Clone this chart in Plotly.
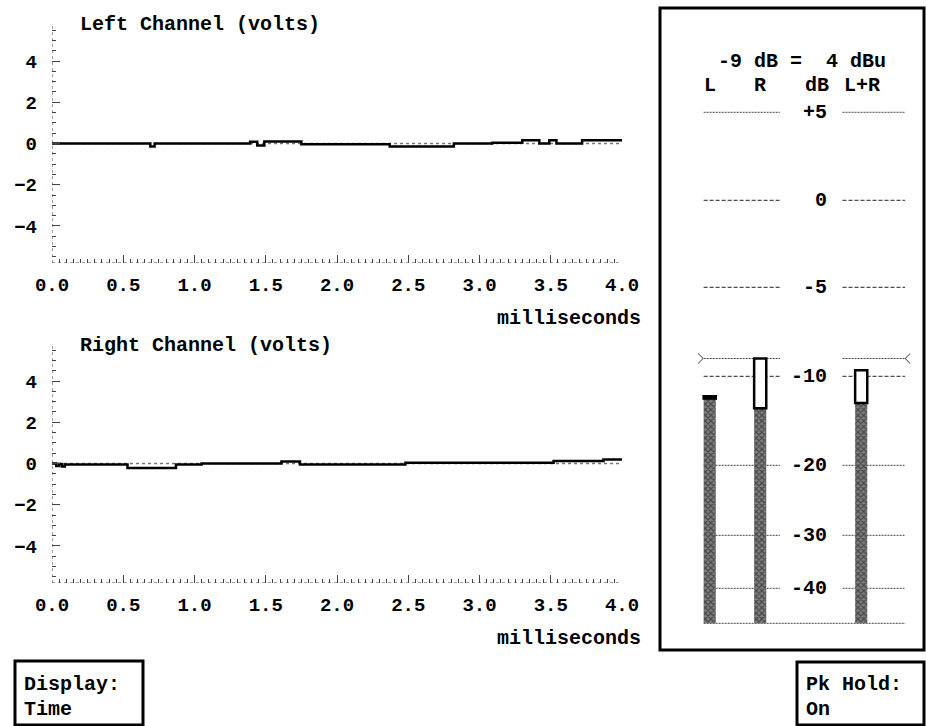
import numpy as np
import plotly.graph_objects as go

W, H = 926, 726

# ---------------- data ----------------
time_ms_left = [0.0, 0.66, 0.69, 0.72, 1.39, 1.44, 1.49, 1.75, 2.37, 2.82, 3.09, 3.30, 3.42, 3.49, 3.54, 3.72, 4.0]
volts_left = [0.0, 0.0, -0.15, 0.0, 0.08, -0.10, 0.10, -0.04, -0.15, 0.0, 0.04, 0.16, 0.0, 0.16, 0.0, 0.16, 0.16]

time_ms_right = [0.0, 0.03, 0.05, 0.07, 0.09, 0.53, 0.87, 1.05, 1.61, 1.74, 2.48, 3.52, 3.87, 4.0]
volts_right = [0.0, -0.12, -0.03, -0.15, -0.05, -0.22, -0.05, 0.0, 0.10, -0.05, 0.04, 0.12, 0.20, 0.20]

meter_columns = ["L", "R", "dB", "L+R"]
meter_channels = ["L", "R", "L+R"]
meter_level_db = [-12.5, -13.6, -13.0]
meter_peak_db = [-12.24, -9.0, -9.66]
meter_ref_db = -9.0
meter_tick_db = [5, 0, -5, -10, -20, -30, -40]
meter_tick_labels = ["+5", "0", "-5", "-10", "-20", "-30", "-40"]
meter_floor_db = -50
# non-linear meter scale (dB -> scale units)
meter_scale_db = [-50, -40, -30, -20, -10, -5, 0, 5]
meter_scale_pos = [0, 35, 88, 158, 247, 336, 423, 511]


def mpos(db):
    return np.interp(db, meter_scale_db, meter_scale_pos)


FONT = "Liberation Mono"
BLACK = "#000000"
GRAY = "#444444"


def fx(px):
    return px / W


def fy(py):
    return 1 - py / H


fig = go.Figure()

# ---------------- waveform plots ----------------
for i, (t, v) in enumerate([(time_ms_left, volts_left), (time_ms_right, volts_right)]):
    xa = "x" if i == 0 else "x2"
    ya = "y" if i == 0 else "y2"
    fig.add_trace(go.Scatter(x=[0, 4], y=[0, 0], mode="lines", xaxis=xa, yaxis=ya,
                             line=dict(color="#777777", width=1.5, dash="dot"),
                             hoverinfo="skip", showlegend=False))
    fig.add_trace(go.Scatter(x=t, y=v, mode="lines", xaxis=xa, yaxis=ya,
                             line=dict(color=BLACK, width=2.5, shape="hv"),
                             showlegend=False))

# ---------------- meter ----------------
cols_x = [meter_columns.index(c) for c in meter_channels]
level_pos = mpos(np.array(meter_level_db))
peak_pos = mpos(np.array(meter_peak_db))
floor_pos = mpos(meter_floor_db)

fig.add_trace(go.Bar(x=cols_x, y=level_pos - floor_pos, base=floor_pos, width=0.24,
                     xaxis="x3", yaxis="y3", showlegend=False,
                     marker=dict(color="#606060", line=dict(width=0),
                                 pattern=dict(shape="x", fgcolor="#111111", bgcolor="#808080",
                                              size=4, solidity=0.55))))
fig.add_trace(go.Bar(x=cols_x, y=peak_pos - level_pos, base=level_pos, width=0.24,
                     xaxis="x3", yaxis="y3", showlegend=False,
                     marker=dict(color="white", line=dict(color=BLACK, width=2.5))))

shapes = []
annotations = []

# axis lines for waveform plots (dotted)
for xa, ya in [("x", "y"), ("x2", "y2")]:
    shapes.append(dict(type="line", xref=xa, yref=ya, x0=0, x1=0, y0=-5.8, y1=5.8,
                       line=dict(color=GRAY, width=1, dash="dot")))
    shapes.append(dict(type="line", xref=xa, yref=ya, x0=0, x1=4, y0=-5.8, y1=-5.8,
                       line=dict(color=GRAY, width=1, dash="dot")))

# meter gridlines
left_seg = (-0.12, 1.39)
right_seg = (2.63, 3.87)
for db, lab in zip(meter_tick_db, meter_tick_labels):
    if db in (0, -5, -10):
        ln = dict(color="#222222", width=1, dash="4px,2px")
    else:
        ln = dict(color="#444444", width=1, dash="2px,1px")
    for seg in (left_seg, right_seg):
        shapes.append(dict(type="line", xref="x3", yref="y3", x0=seg[0], x1=seg[1],
                           y0=mpos(db), y1=mpos(db), line=ln, layer="below"))
    annotations.append(dict(xref="paper", yref="y3", x=fx(829), y=mpos(db), text="<b>%s</b>" % lab,
                            xanchor="right", yanchor="middle", showarrow=False,
                            font=dict(family=FONT, size=20, color=BLACK)))
# floor line
shapes.append(dict(type="line", xref="x3", yref="y3", x0=left_seg[0], x1=right_seg[1],
                   y0=floor_pos, y1=floor_pos, line=dict(color="#444444", width=1, dash="2px,1px"),
                   layer="below"))
# peak reference line with arrows
ref = mpos(meter_ref_db)
for seg in (left_seg, right_seg):
    shapes.append(dict(type="line", xref="x3", yref="y3", x0=seg[0], x1=seg[1], y0=ref, y1=ref,
                       line=dict(color="#444444", width=1, dash="2px,1px"), layer="below"))
shapes.append(dict(type="path", xref="x3", yref="y3",
                   path="M %f %f L %f %f L %f %f" % (-0.23, ref + 5, -0.13, ref, -0.23, ref - 5),
                   line=dict(color="#333333", width=1)))
shapes.append(dict(type="path", xref="x3", yref="y3",
                   path="M %f %f L %f %f L %f %f" % (3.97, ref + 5, 3.87, ref, 3.97, ref - 5),
                   line=dict(color="#333333", width=1)))

# boxes
shapes.append(dict(type="rect", xref="paper", yref="paper", x0=fx(660), x1=fx(924), y0=fy(650), y1=fy(8),
                   line=dict(color=BLACK, width=3)))
shapes.append(dict(type="rect", xref="paper", yref="paper", x0=fx(15), x1=fx(143), y0=fy(725), y1=fy(661),
                   line=dict(color=BLACK, width=3)))
shapes.append(dict(type="rect", xref="paper", yref="paper", x0=fx(797), x1=fx(924), y0=fy(725), y1=fy(662),
                   line=dict(color=BLACK, width=3)))


def txt(x, y, s, anchor="left", size=20):
    annotations.append(dict(xref="paper", yref="paper", x=fx(x), y=fy(y), text="<b>%s</b>" % s,
                            xanchor=anchor, yanchor="middle", showarrow=False,
                            font=dict(family=FONT, size=size, color=BLACK)))


txt(78, 24, "Left Channel (volts)")
txt(78, 345, "Right Channel (volts)")
txt(643, 318, "milliseconds", "right")
txt(643, 638, "milliseconds", "right")
txt(716, 61, "-9\u00a0dB\u00a0=\u00a0\u00a04\u00a0dBu")
txt(709.7, 85, "L", "center")
txt(760.2, 85, "R", "center")
txt(816.5, 85, "dB", "center")
txt(862, 85, "L+R", "center")
txt(22, 684, "Display:")
txt(22, 709, "Time")
txt(804, 684, "Pk\u00a0Hold:")
txt(804, 709, "On")

tickfont = dict(family=FONT, size=19, color=BLACK, weight="bold")


def xaxis_cfg(anchor, domain_px):
    return dict(domain=[fx(domain_px[0]), fx(domain_px[1])], range=[0, 4], anchor=anchor,
                tickmode="linear", tick0=0, dtick=0.5, tickformat=".1f",
                ticks="inside", ticklen=8, tickcolor=GRAY, tickwidth=1,
                minor=dict(dtick=0.05, tick0=0, ticks="inside", ticklen=4, tickcolor=GRAY, tickwidth=1),
                showgrid=False, zeroline=False, showline=False, automargin=False,
                tickfont=tickfont, ticklabelstandoff=8)


def yaxis_cfg(anchor, top_px, bottom_px):
    return dict(domain=[fy(bottom_px), fy(top_px)], range=[-5.8, 5.8], anchor=anchor,
                tickmode="array", tickvals=[-4, -2, 0, 2, 4],
                ticks="inside", ticklen=8, tickcolor=GRAY, tickwidth=1,
                minor=dict(dtick=0.5, tick0=0, ticks="inside", ticklen=4, tickcolor=GRAY, tickwidth=1),
                showgrid=False, zeroline=False, showline=False, automargin=False,
                tickfont=tickfont, ticklabelstandoff=14)


px_per_col = 50.5
col0_px = 709.7
fig.update_layout(
    width=W, height=H,
    margin=dict(l=0, r=0, t=0, b=0, pad=0, autoexpand=False),
    paper_bgcolor="white", plot_bgcolor="white",
    barmode="overlay",
    showlegend=False,
    xaxis=xaxis_cfg("y", (52, 622)),
    yaxis=yaxis_cfg("x", 24, 263),
    xaxis2=xaxis_cfg("y2", (52, 622)),
    yaxis2=yaxis_cfg("x2", 344, 583),
    xaxis3=dict(domain=[fx(660), fx(924)],
                range=[(660 - col0_px) / px_per_col, (924 - col0_px) / px_per_col],
                anchor="y3", visible=False, automargin=False),
    yaxis3=dict(domain=[fy(650), fy(8)], range=[-(650 - 623.3), 623.3 - 8],
                anchor="x3", visible=False, automargin=False),
    shapes=shapes,
    annotations=annotations,
)

fig.write_html("out.html")
